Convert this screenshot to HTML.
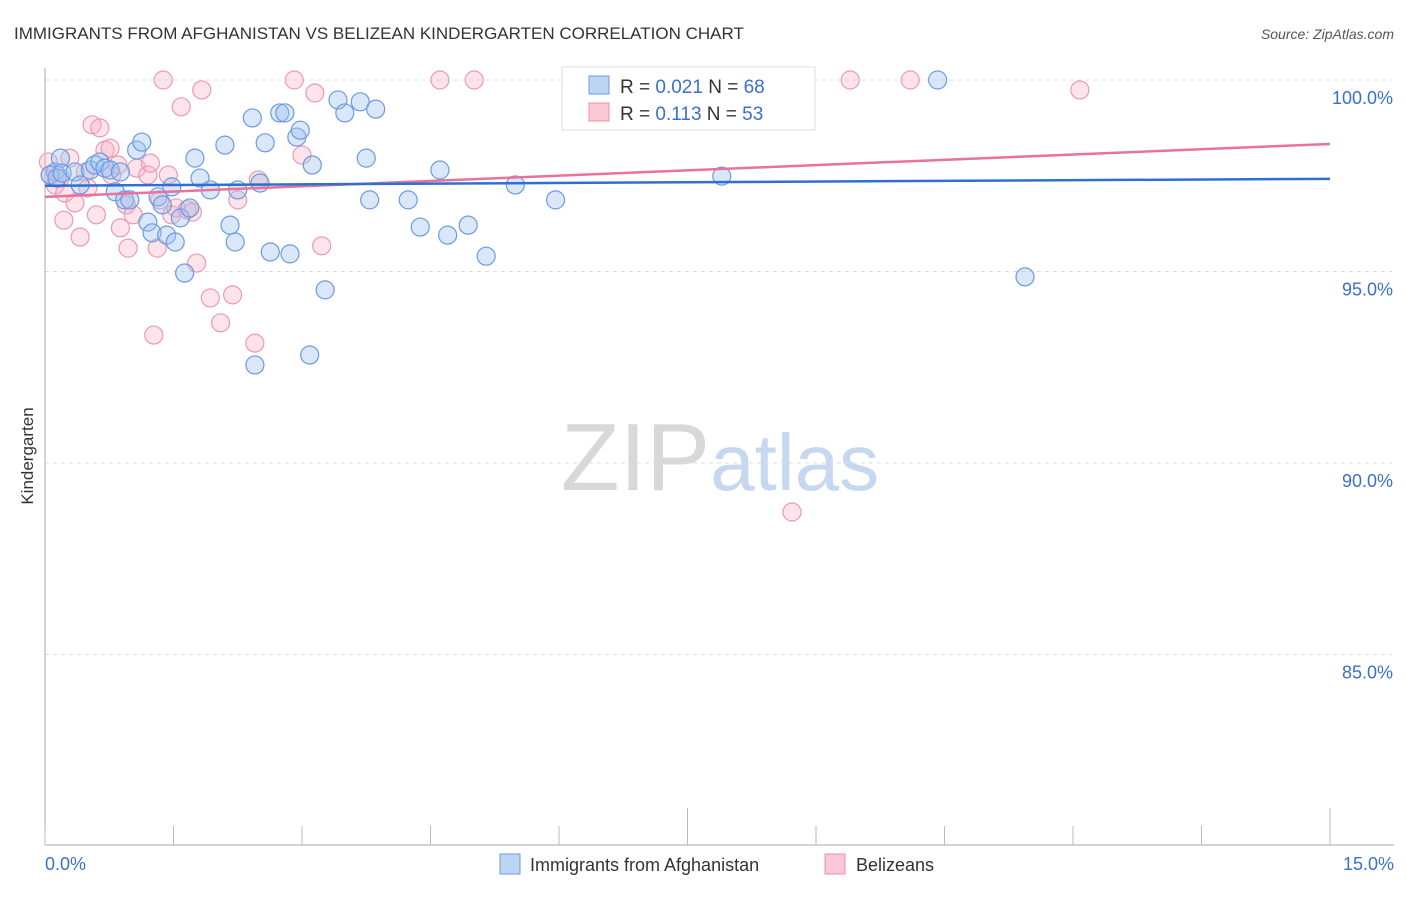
<!DOCTYPE html>
<html><head><meta charset="utf-8"><style>
body{margin:0;background:#fff;font-family:"Liberation Sans",sans-serif;}
svg text{font-family:"Liberation Sans",sans-serif;}
</style></head><body>
<svg id="chart" width="1406" height="892" xmlns="http://www.w3.org/2000/svg">
<text x="14" y="39" font-size="17" fill="#333">IMMIGRANTS FROM AFGHANISTAN VS BELIZEAN KINDERGARTEN CORRELATION CHART</text>
<text x="1394" y="39" font-size="14" fill="#555" text-anchor="end" font-style="italic">Source: ZipAtlas.com</text>
<text x="720" y="490" font-size="96" text-anchor="middle" fill="#ddd" font-family="Liberation Serif"><tspan fill="#d8d8d8">ZIP</tspan><tspan fill="#c5d8ef" font-family="Liberation Sans" font-size="80">atlas</tspan></text>
<text transform="translate(33,456) rotate(-90)" font-size="17" fill="#333" text-anchor="middle">Kindergarten</text>
<g id="grid"></g><g id="axes"></g><g id="pts"></g><g id="trend"></g>
<g>
<rect x="562" y="67" width="253" height="63" fill="#fff" stroke="#ddd"/>
<rect x="589" y="76" width="20" height="18" fill="#bcd5f5" stroke="#6d9be0"/>
<rect x="589" y="103" width="20" height="18" fill="#fbc8d6" stroke="#e890aa"/>
<text x="620" y="93" font-size="19" fill="#333">R = <tspan fill="#3a6fd0">0.021</tspan>   N = <tspan fill="#3a6fd0">68</tspan></text>
<text x="620" y="120" font-size="19" fill="#333">R =  <tspan fill="#3a6fd0">0.113</tspan>   N = <tspan fill="#3a6fd0">53</tspan></text>
</g>
<g>
<rect x="500" y="854" width="20" height="20" fill="#bcd5f5" stroke="#6d9be0"/>
<text x="530" y="871" font-size="18" fill="#333">Immigrants from Afghanistan</text>
<rect x="825" y="854" width="20" height="20" fill="#fbc8d6" stroke="#e890aa"/>
<text x="856" y="871" font-size="18" fill="#333">Belizeans</text>
</g>
</svg>
<script>
const blueX=[.12,.18,.06,.14,.20,.35,.41,.53,.58,.64,.70,.76,.82,.88,.93,.99,1.07,1.13,1.20,1.25,1.32,1.37,1.42,1.48,1.52,1.58,1.63,1.69,1.75,1.81,1.93,2.10,2.16,2.22,2.25,2.42,2.45,2.51,2.57,2.63,2.74,2.80,2.86,2.94,2.98,3.09,3.12,3.27,3.42,3.50,3.68,3.75,3.79,3.86,4.24,4.38,4.61,4.70,4.94,5.15,5.49,5.96,6.85,7.90,10.42,11.44];
const blueY=[97.60,97.96,97.52,97.44,97.57,97.60,97.26,97.65,97.78,97.86,97.70,97.65,97.08,97.60,96.87,96.87,98.17,98.38,96.29,96.01,96.95,96.74,95.95,97.21,95.77,96.40,94.96,96.66,97.96,97.44,97.13,98.30,96.21,95.77,97.13,99.01,92.56,97.31,98.36,95.51,99.14,99.14,95.46,98.51,98.69,92.82,97.78,94.52,99.48,99.14,99.43,97.96,96.87,99.24,96.87,96.16,97.65,95.95,96.21,95.40,97.26,96.87,100,97.49,100,94.86];
const pinkX=[.04,.06,.12,.18,.23,.29,.35,.41,.47,.50,.55,.60,.64,.70,.76,.78,.85,.88,.95,.97,1.03,1.07,1.20,1.23,1.27,1.31,1.34,1.38,1.44,1.48,1.53,1.59,1.66,1.72,1.77,1.83,1.93,2.05,2.19,2.25,2.45,2.49,2.91,3.00,3.15,3.23,4.61,5.01,8.72,9.40,10.10,12.08,.22];
const pinkY=[97.86,97.52,97.26,97.44,97.05,97.96,96.79,95.90,97.60,97.18,98.83,96.48,98.75,98.17,98.22,97.52,97.78,96.14,96.74,95.61,96.48,97.70,97.52,97.83,93.34,95.61,96.87,100,97.52,96.48,96.66,99.30,96.61,96.55,95.22,99.74,94.31,93.66,94.39,96.87,93.13,97.39,100,98.04,99.66,95.67,100,100,88.72,100,100,99.74,96.34];
const yTicks=[100,95,90,85];
const yTickLabels=["100.0%","95.0%","90.0%","85.0%"];
const xEnds=["0.0%","15.0%"];
const blueTrend=[97.24,97.42];
const pinkTrend=[96.95,98.33];
const X0=45,X1=1330,YB=845;
const sx=v=>X0+v/15*(X1-X0);
const sy=v=>80+(100-v)*38.3;
const NS="http://www.w3.org/2000/svg";
function mk(tag,attrs,parent,txt){const e=document.createElementNS(NS,tag);for(const k in attrs)e.setAttribute(k,attrs[k]);if(txt!=null)e.textContent=txt;document.getElementById(parent).appendChild(e);return e;}
yTicks.forEach((t,i)=>{
 const l=mk('line',{x1:X0,x2:1392,y1:sy(t),y2:sy(t),stroke:'#ddd','stroke-dasharray':'4,4'},'grid');
 
 
 const tx=mk('text',{x:1393,y:sy(t)+24,'font-size':18,fill:'#3a6fd0','text-anchor':'end'},'grid',yTickLabels[i]);
 
 
});
let a=mk('line',{x1:X0,x2:X0,y1:68,y2:YB,stroke:'#aaa'},'axes');


a=mk('line',{x1:X0,x2:1394,y1:YB,y2:YB,stroke:'#aaa'},'axes');


for(let i=0;i<=10;i++){const x=sx(i*1.5);const tk=mk('line',{x1:x,x2:x,y1:(i==5||i==10)?808:826,y2:YB,stroke:'#bbb'},'axes');
 
 }
let t=mk('text',{x:45,y:870,'font-size':18,fill:'#3a6fd0'},'axes',xEnds[0]);


t=mk('text',{x:1394,y:870,'font-size':18,fill:'#3a6fd0','text-anchor':'end'},'axes',xEnds[1]);


pinkX.forEach((v,i)=>{const c=mk('circle',{cx:sx(v),cy:sy(pinkY[i]),r:9,fill:'rgba(248,175,195,0.35)',stroke:'#eb9ab2','stroke-width':1.2},'pts');
 
 });
blueX.forEach((v,i)=>{const c=mk('circle',{cx:sx(v),cy:sy(blueY[i]),r:9,fill:'rgba(160,195,240,0.4)',stroke:'#6a9be2','stroke-width':1.2},'pts');
 
 });
let tl=mk('line',{x1:sx(0),x2:sx(15),y1:sy(pinkTrend[0]),y2:sy(pinkTrend[1]),stroke:'#e8729a','stroke-width':2.5},'trend');


tl=mk('line',{x1:sx(0),x2:sx(15),y1:sy(blueTrend[0]),y2:sy(blueTrend[1]),stroke:'#2f6fd0','stroke-width':2.5},'trend');


</script>
</body></html>
